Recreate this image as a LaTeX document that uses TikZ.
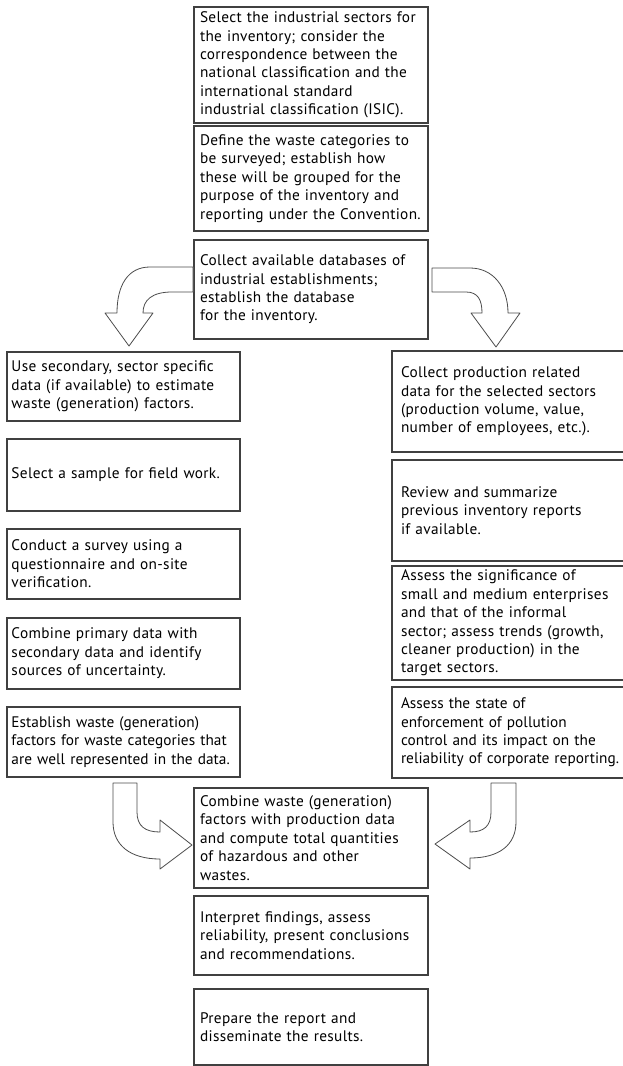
\documentclass[tikz,border=0pt]{standalone}
\usepackage{fontspec}
\setmainfont[LetterSpace=2.2]{PT Sans}
\usepackage{tikz}

\begin{document}
\begin{tikzpicture}[x=1pt, y=-1pt, inner sep=0pt,
  stepbox/.style={draw=black!75, line width=1.1pt, rectangle, align=left, inner ysep=2pt, font=\fontsize{15.3}{18.4}\selectfont},
  tightbox/.style={font=\fontsize{15.3}{18.4}\selectfont\addfontfeature{LetterSpace=0.3}},
  midbox/.style={stepbox, text width=222pt, minimum width=234pt, inner xsep=6pt},
  leftbox/.style={stepbox, text width=224pt, minimum width=233pt, inner xsep=4.5pt},
  rightbox/.style={stepbox, text width=228pt, minimum width=246pt, inner xsep=9pt},
  bentarrow/.style={draw=black!70, line width=0.8pt, fill=white, line join=round}]
\useasboundingbox (0,0) rectangle (622,1066);

\node (sectors) at (311,65) [midbox, minimum height=116] {Select the industrial sectors for\\ the inventory; consider the\\ correspondence between the\\ national classification and the\\ international standard\\ industrial classification (ISIC).};
\node (categories) at (311,178.5) [midbox, minimum height=105] {Define the waste categories to\\ be surveyed; establish how\\ these will be grouped for the\\ purpose of the inventory and\\ reporting under the Convention.};
\node (database) at (311,289.5) [midbox, minimum height=99] {Collect available databases of\\ industrial establishments;\\ establish the database\\ for the inventory.};

\node (secdata) at (123.5,386.5) [leftbox, minimum height=69] {Use secondary, sector specific\\ data (if available) to estimate\\ waste (generation) factors.};
\node (sample) at (123.5,475) [leftbox, minimum height=72] {Select a sample for field work.};
\node (survey) at (123.5,564) [leftbox, minimum height=70] {Conduct a survey using a\\ questionnaire and on-site\\ verification.};
\node (primary) at (123.5,653.5) [leftbox, minimum height=71] {Combine primary data with\\ secondary data and identify\\ sources of uncertainty.};
\node (factors) at (123.5,742) [leftbox, tightbox, minimum height=70] {Establish waste (generation)\\ factors for waste categories that\\ are well represented in the data.};

\node (proddata) at (515,401.5) [rightbox, minimum height=101] {Collect production related\\ data for the selected sectors\\ (production volume, value,\\ number of employees, etc.).};
\node (previous) at (515,510.5) [rightbox, minimum height=101] {Review and summarize\\ previous inventory reports\\ if available.};
\node (sme) at (515,623) [rightbox, minimum height=114] {Assess the significance of\\ small and medium enterprises\\ and that of the informal\\ sector; assess trends (growth,\\ cleaner production) in the\\ target sectors.};
\node (enforce) at (515,732.5) [rightbox, tightbox, minimum height=91] {Assess the state of\\ enforcement of pollution\\ control and its impact on the\\ reliability of corporate reporting.};

\node (quantities) at (311,838) [midbox, minimum height=100] {Combine waste (generation)\\ factors with production data\\ and compute total quantities\\ of hazardous and other\\ wastes.};
\node (interpret) at (311,935.5) [midbox, minimum height=79] {Interpret findings, assess\\ reliability, present conclusions\\ and recommendations.};
\node (report) at (311,1027) [midbox, minimum height=76] {Prepare the report and\\ disseminate the results.};

\draw[bentarrow] (193,267) -- (150,267) .. controls (128,267) and (117,285) .. (117,313) -- (105,313) -- (129,346) -- (153,313) -- (143,313) .. controls (143,300) and (152,292) .. (172,292) -- (193,292) -- cycle;
\draw[bentarrow] (432,268) -- (470,268) .. controls (493,268) and (508,287) .. (508,313) -- (520,313) -- (496,347) -- (471,313) -- (482,313) .. controls (482,300) and (478,292) .. (466,292) -- (432,292) -- cycle;
\draw[bentarrow] (113,783) -- (113,822) .. controls (113,845) and (130,859) .. (160,859) -- (160,869) -- (192,845) -- (160,820) -- (160,832) .. controls (145,832) and (137,826) .. (137,812) -- (137,783) -- cycle;
\draw[bentarrow] (516,783) -- (516,822) .. controls (516,845) and (499,858) .. (470,858) -- (470,869) -- (435,844) -- (470,820) -- (470,832) .. controls (484,832) and (491,826) .. (491,812) -- (491,783) -- cycle;
\end{tikzpicture}
\end{document}
